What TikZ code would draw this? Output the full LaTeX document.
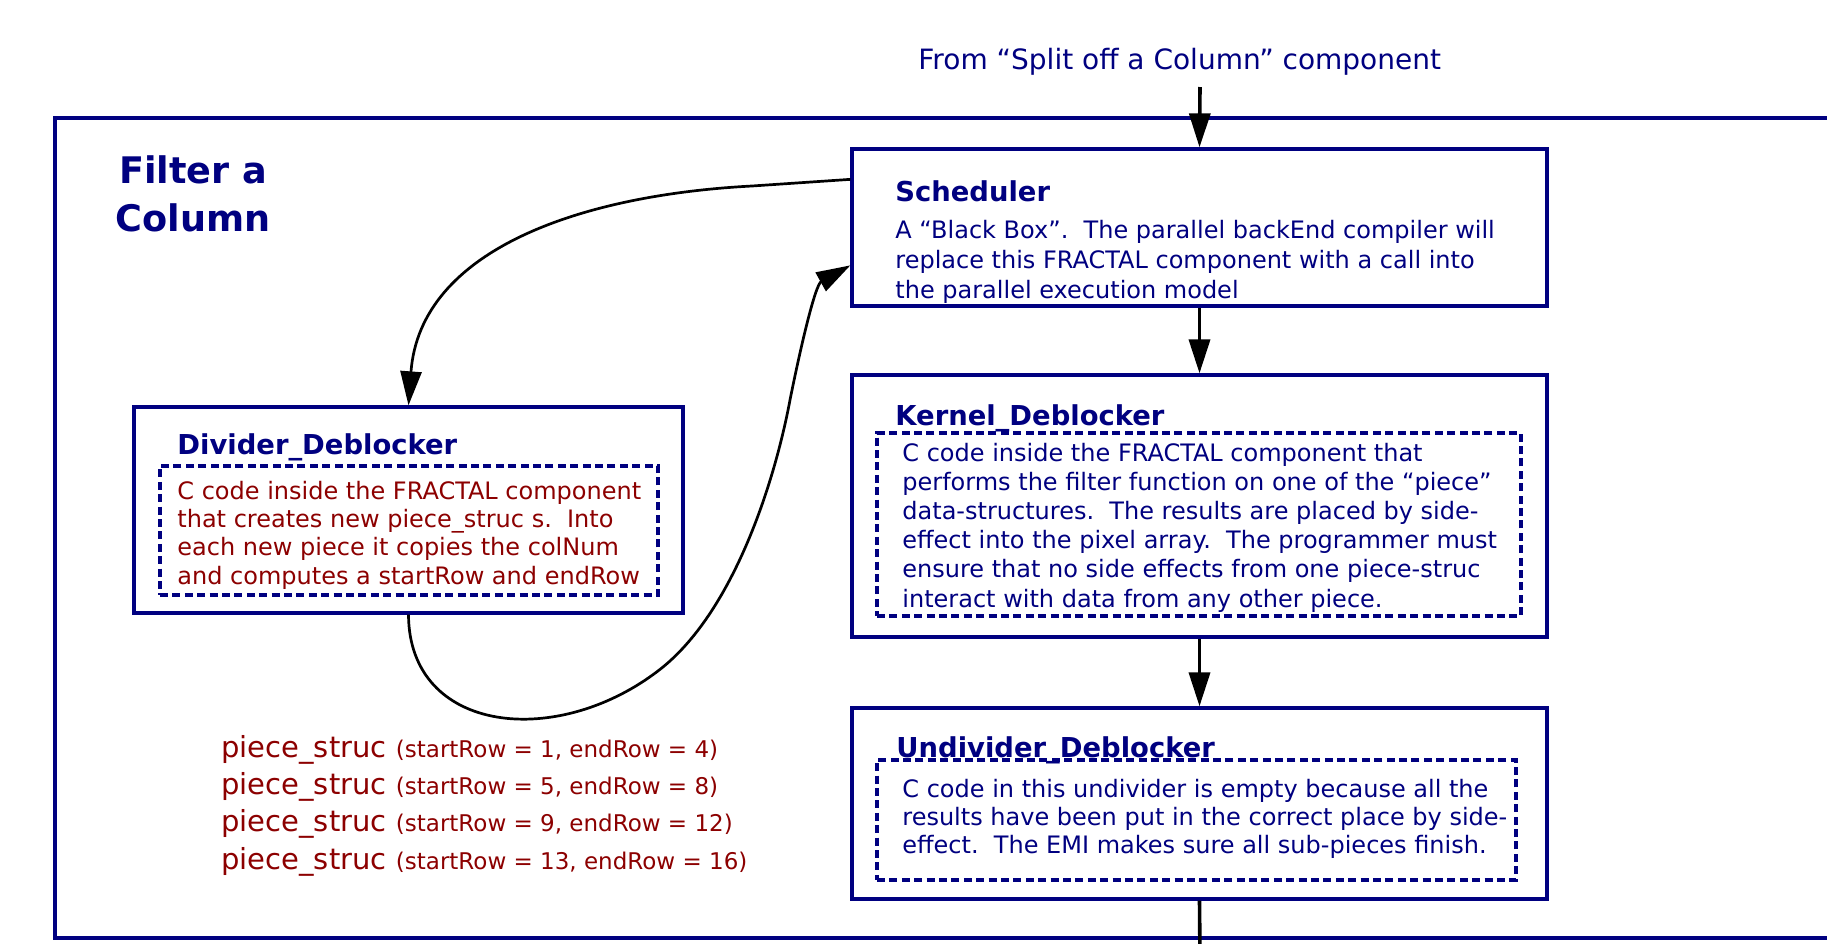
\documentclass[tikz,border=0pt]{standalone}
\usepackage{fontspec}
\setmainfont{DejaVu Sans}
\usetikzlibrary{arrows.meta}
\definecolor{navy}{RGB}{0,0,128}
\definecolor{codered}{RGB}{140,0,0}

\begin{document}
\begin{tikzpicture}[x=0.5pt,y=-0.5pt,
  box/.style={draw=navy,line width=1.65pt,rectangle,inner sep=0pt},
  codebox/.style={draw=navy,line width=1.65pt,dash pattern=on 4pt off 2.2pt,rectangle,inner sep=0pt},
  boxtitle/.style={font=\bfseries\fontsize{13.7}{16}\selectfont,text=navy,anchor=base west,inner sep=0pt},
  body/.style={font=\fontsize{12}{14.6}\selectfont,text=navy,anchor=base west,inner sep=0pt,align=left},
  flow/.style={-{Triangle[length=17pt,width=10.5pt]},line width=1.8pt,black},
  loopback/.style={-{Triangle[length=17pt,width=10.5pt]},line width=1.35pt,black}]

\useasboundingbox (0,0) rectangle (1827,943);
\clip (0,0) rectangle (1827,943);

% outer component frame (open to the right)
\draw[navy,line width=1.65pt] (1900,118) -- (55,118) -- (55,938) -- (1900,938);

% component title (anchored on the baseline of its last line)
\node[font=\bfseries\fontsize{18.3}{24.3}\selectfont,text=navy,anchor=base,align=center,inner sep=0pt]
  (ftitle) at (193,231.6) {Filter a\\Column};

% incoming label
\node[font=\fontsize{14}{16}\selectfont,text=navy,anchor=base west,inner sep=0pt]
  (from) at (918,69) {From “Split off a Column” component};

% boxes
\node[box,minimum width=347.5pt,minimum height=78.5pt] (sched) at (1199.5,227.5) {};
\node[box,minimum width=347.5pt,minimum height=131pt] (kern) at (1199.5,506) {};
\node[box,minimum width=347.5pt,minimum height=95.5pt] (undiv) at (1199.5,803.5) {};
\node[box,minimum width=274.5pt,minimum height=103pt] (div) at (408.5,510) {};

% dashed code regions
\node[codebox,minimum width=322pt,minimum height=91.5pt] (kcode) at (1199,524.5) {};
\node[codebox,minimum width=319.5pt,minimum height=60pt] (ucode) at (1196.5,820) {};
\node[codebox,minimum width=249pt,minimum height=64.5pt] (dcode) at (409,530.5) {};

% box titles
\node[boxtitle] (schedT) at (895,201) {Scheduler};
\node[boxtitle] (kernT) at (895,425) {Kernel\_Deblocker};
\node[boxtitle] (undivT) at (896,757) {Undivider\_Deblocker};
\node[boxtitle] (divT) at (177,454) {Divider\_Deblocker};

% box texts (each anchored on the baseline of its last line)
\node[body,font=\fontsize{12}{15}\selectfont] (schedX) at (895,298)
  {A “Black Box”.\ \ The parallel backEnd compiler will\\
   replace this FRACTAL component with a call into\\
   the parallel execution model};
\node[body] (kernX) at (902,607)
  {C code inside the FRACTAL component that\\
   performs the filter function on one of the “piece”\\
   data-structures.\ \ The results are placed by side-\\
   effect into the pixel array.\ \ The programmer must\\
   ensure that no side effects from one piece-struc\\
   interact with data from any other piece.};
\node[body,font=\fontsize{12}{14.2}\selectfont] (undivX) at (902,853.8)
  {C code in this undivider is empty because all the\\
   results have been put in the correct place by side-\\
   effect.\ \ The EMI makes sure all sub-pieces finish.};
\node[body,font=\fontsize{12}{14.2}\selectfont,text=codered] (divX) at (177,584.2)
  {C code inside the FRACTAL component\\
   that creates new piece\_struc s.\ \ Into\\
   each new piece it copies the colNum\\
   and computes a startRow and endRow};

% generated pieces
\node[body,font=\fontsize{14.5}{18.7}\selectfont,text=codered] (pieces) at (221,869.2)
  {piece\_struc {\fontsize{11.5}{18.7}\selectfont(startRow = 1, endRow = 4)}\\
   piece\_struc {\fontsize{11.5}{18.7}\selectfont(startRow = 5, endRow = 8)}\\
   piece\_struc {\fontsize{11.5}{18.7}\selectfont(startRow = 9, endRow = 12)}\\
   piece\_struc {\fontsize{11.5}{18.7}\selectfont(startRow = 13, endRow = 16)}};

% main flow
\coordinate (src) at (1200,87);
\coordinate (sink) at (1200,960);
\draw[flow] (src) -- (sched.north);
\draw[flow] (sched.south) -- (kern.north);
\draw[flow] (kern.south) -- (undiv.north);
\draw[line width=1.8pt] (undiv.south) -- (sink);

% scheduler <-> divider loop
\coordinate (bend) at (752,186);
\coordinate (dip) at (663,667);
\coordinate (rise) at (790,400);
\draw[loopback] ([yshift=-16pt]sched.north west) -- (bend)
  .. controls (580,195) and (420,250) .. (div.north);
\draw[loopback] (div.south) .. controls (409,735) and (560,750) .. (dip)
  .. controls (735,608) and (775,480) .. (rise)
  .. controls (800,350) and (815,285) .. ([yshift=-59pt]sched.north west);
\end{tikzpicture}
\end{document}
